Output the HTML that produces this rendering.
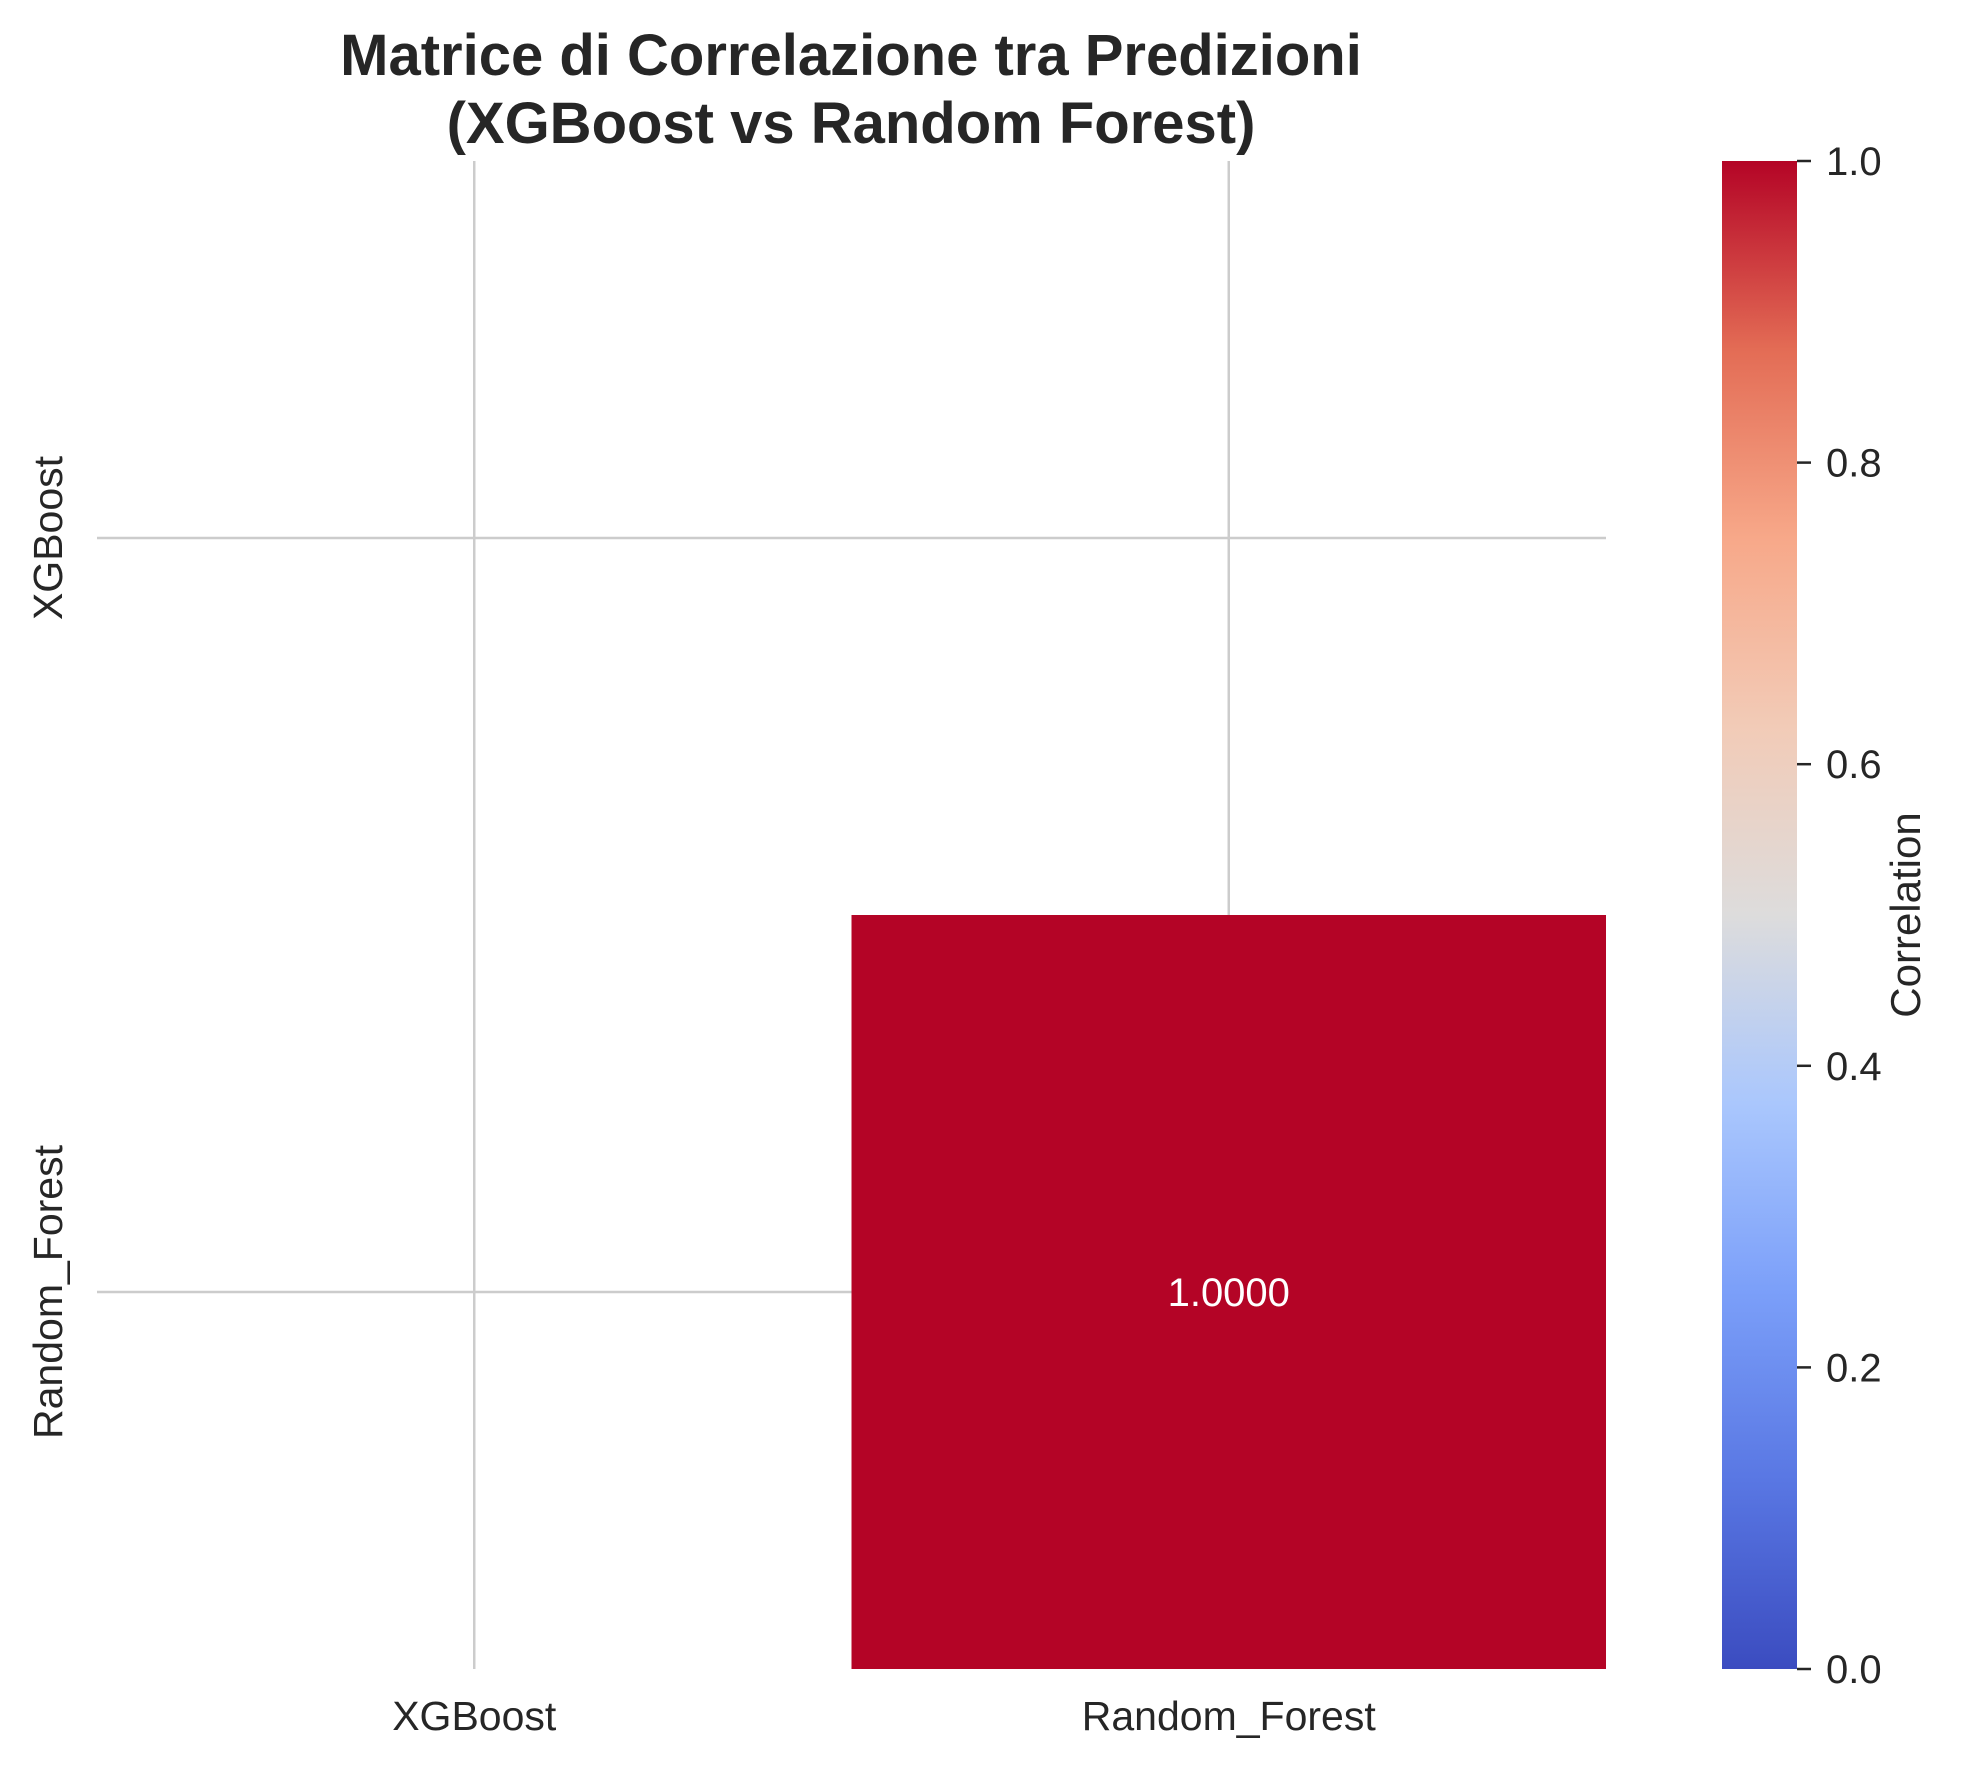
<!DOCTYPE html>
<html><head><meta charset="utf-8"><style>
html,body{margin:0;padding:0;background:#fff;}
svg text{font-family:"Liberation Sans",Arial,sans-serif;fill:#262626;}
</style></head><body>
<svg id="chart" width="1968" height="1766" viewBox="0 0 1968 1766" xmlns="http://www.w3.org/2000/svg">
<defs>
<linearGradient id="cw" x1="0" y1="1" x2="0" y2="0">
<stop offset="0" stop-color="#3b4cc0"/><stop offset="0.125" stop-color="#5977e3"/>
<stop offset="0.25" stop-color="#7b9ff9"/><stop offset="0.375" stop-color="#aac7fd"/>
<stop offset="0.5" stop-color="#dddcdc"/><stop offset="0.625" stop-color="#f2cbb7"/>
<stop offset="0.75" stop-color="#f7a889"/><stop offset="0.875" stop-color="#e36c55"/>
<stop offset="1" stop-color="#b40426"/>
</linearGradient>
</defs>
<text x="851" y="75" font-size="58" font-weight="bold" text-anchor="middle">Matrice di Correlazione tra Predizioni</text>
<text x="851" y="143" font-size="58" font-weight="bold" text-anchor="middle">(XGBoost vs Random Forest)</text>
<g id="grid"></g>
<g id="cells"></g>
<g id="labels"></g>
<rect x="1722" y="161" width="75" height="1508" fill="url(#cw)"/>
<g id="cbticks"></g>
<text transform="translate(1920,915) rotate(-90)" font-size="42" text-anchor="middle">Correlation</text>
</svg>
<script>
const categories = ["XGBoost", "Random_Forest"];
// null = masked cell
const row0 = [null, null];
const row1 = [null, 1.0];
const cbTicks = ["0.0","0.2","0.4","0.6","0.8","1.0"];
const cbValues = [0, 0.2, 0.4, 0.6, 0.8, 1.0];

const NS = "http://www.w3.org/2000/svg";
const X0 = 97, Y0 = 161, W = 1509, H = 1508;
const n = categories.length;
const cw = W / n, ch = H / n;
const xPos = i => X0 + cw * i;
const yPos = j => Y0 + ch * j;
const cbY = v => 1669 - v * 1508;
function color(v){
  const stops=[[0,[59,76,192]],[0.25,[123,159,249]],[0.5,[221,220,220]],[0.75,[247,168,137]],[1,[180,4,38]]];
  for(let k=1;k<stops.length;k++){ if(v<=stops[k][0]){const a=stops[k-1],b=stops[k];const t=(v-a[0])/(b[0]-a[0]);
    return "rgb("+a[1].map((c,i)=>Math.round(c+(b[1][i]-c)*t)).join(",")+")";}}
  return "rgb(180,4,38)";
}
function mk(tag, attrs, parent){const e=document.createElementNS(NS,tag);for(const k in attrs)e.setAttribute(k,attrs[k]);parent.appendChild(e);return e;}
const grid=document.getElementById("grid"), cells=document.getElementById("cells"), labels=document.getElementById("labels"), cbt=document.getElementById("cbticks");
for(let i=0;i<n;i++){
  const gx=mk("line",{x1:xPos(i)+cw/2,x2:xPos(i)+cw/2,y1:Y0,y2:Y0+H,stroke:"#cccccc","stroke-width":2.5},grid);
  
  
  const gy=mk("line",{x1:X0,x2:X0+W,y1:yPos(i)+ch/2,y2:yPos(i)+ch/2,stroke:"#cccccc","stroke-width":2.5},grid);
  
  
  const tx=mk("text",{x:xPos(i)+cw/2,y:1730,"font-size":41,"text-anchor":"middle"},labels);
  tx.textContent=categories[i];
  
  
  const ty=mk("text",{transform:`translate(62,${yPos(i)+ch/2}) rotate(-90)`,"font-size":41,"text-anchor":"middle"},labels);
  ty.textContent=categories[i];
  
  
}
const rows=[row0,row1];
rows.forEach((row,j)=>row.forEach((v,i)=>{
  if(v===null) return;
  const r=mk("rect",{x:xPos(i),y:yPos(j),width:cw,height:ch,fill:color(v)},cells);
  
  
  const t=mk("text",{x:xPos(i)+cw/2,y:yPos(j)+ch/2+14,"font-size":40,"text-anchor":"middle",style:"fill:#ffffff"},cells);
  t.textContent=v.toFixed(4);
  
  
}));
cbValues.forEach((v,k)=>{
  const l=mk("line",{x1:1797,x2:1811,y1:cbY(v),y2:cbY(v),stroke:"#262626","stroke-width":2.5},cbt);
  
  
  const t=mk("text",{x:1826,y:cbY(v)+14,"font-size":40},cbt);
  t.textContent=cbTicks[k];
  
  
});
</script>
</body></html>
